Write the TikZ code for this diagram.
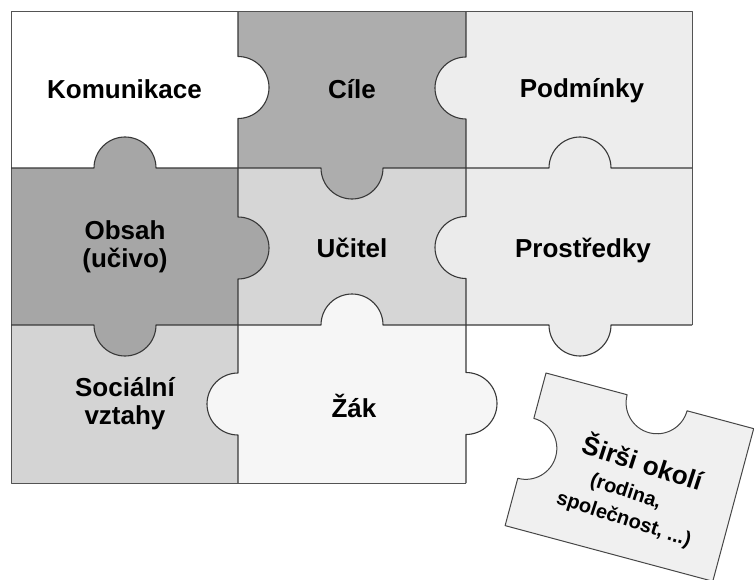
\documentclass[tikz,border=0pt]{standalone}
\usepackage{fontspec}
\setmainfont{Liberation Sans}
\definecolor{komC}{gray}{1.0}
\definecolor{cileC}{gray}{0.68}
\definecolor{podmC}{gray}{0.93}
\definecolor{obsahC}{gray}{0.65}
\definecolor{ucitelC}{gray}{0.84}
\definecolor{prostC}{gray}{0.92}
\definecolor{socC}{gray}{0.83}
\definecolor{zakC}{gray}{0.965}
\definecolor{sirsiC}{gray}{0.94}
\definecolor{edgeC}{gray}{0.22}
\tikzset{
  edge/.style={draw=edgeC, line width=1.1pt, line join=round},
  outer/.style={draw=gray!65!black, line width=1pt, line join=round},
  lbl/.style={font=\bfseries\fontsize{26}{28}\selectfont, text=black, inner sep=0pt, align=center},
  small/.style={font=\bfseries\fontsize{20}{22}\selectfont, text=black, inner sep=0pt},
}
\begin{document}
\begin{tikzpicture}[x=1pt, y=-1pt]
\useasboundingbox (0,0) rectangle (754,580);
% cell fills
\fill[komC]    (11,12)   rectangle (238,168);
\fill[cileC]   (238,12)  rectangle (466,168);
\fill[podmC]   (466,12)  rectangle (692,168);
\fill[obsahC]  (11,168)  rectangle (238,325);
\fill[ucitelC] (238,168) rectangle (466,325);
\fill[prostC]  (466,168) rectangle (692,325);
\fill[socC]    (11,325)  rectangle (238,483);
\fill[zakC]    (238,325) rectangle (466,483);
% tabs
\fill[komC]    (238,87.5)  circle[radius=31pt];
\fill[obsahC]  (238,248)   circle[radius=31pt];
\fill[zakC]    (238,404)   circle[radius=31pt];
\fill[podmC]   (466,88)    circle[radius=31pt];
\fill[prostC]  (466,247.5) circle[radius=31pt];
\fill[zakC]    (466,403.5) circle[radius=31pt];
\fill[obsahC]  (125,168)   circle[radius=31pt];
\fill[cileC]   (352,168)   circle[radius=31pt];
\fill[prostC]  (580,168)   circle[radius=31pt];
\fill[obsahC]  (125,325)   circle[radius=31pt];
\fill[zakC]    (352,325)   circle[radius=31pt];
\fill[prostC]  (580,325)   circle[radius=31pt];
% outer border
\path[outer] (466,483) -- (11,483) -- (11,12) -- (692,12) -- (692,325);
% inner edges
\path[edge] (238,12) -- (238,56.5) arc[start angle=90,end angle=-90,radius=31pt]
  -- (238,217) arc[start angle=90,end angle=-90,radius=31pt]
  -- (238,373) arc[start angle=90,end angle=270,radius=31pt] -- (238,483);
\path[edge] (466,12) -- (466,57) arc[start angle=90,end angle=270,radius=31pt]
  -- (466,216.5) arc[start angle=90,end angle=270,radius=31pt]
  -- (466,372.5) arc[start angle=90,end angle=-90,radius=31pt] -- (466,483);
\path[edge] (11,168) -- (94,168) arc[start angle=180,end angle=0,radius=31pt]
  -- (321,168) arc[start angle=180,end angle=360,radius=31pt]
  -- (549,168) arc[start angle=180,end angle=0,radius=31pt] -- (692,168);
\path[edge] (11,325) -- (94,325) arc[start angle=180,end angle=360,radius=31pt]
  -- (321,325) arc[start angle=180,end angle=0,radius=31pt]
  -- (549,325) arc[start angle=180,end angle=360,radius=31pt] -- (692,325);
% loose piece
\begin{scope}[shift={(546,373)}, rotate=-15]
\path[fill=sirsiC, draw=gray!55!black, line width=1pt, line join=round]
  (0,0) -- (84,0) arc[start angle=180,end angle=360,radius=31pt]
  -- (215,0) -- (215,158) -- (0,158) -- (0,109) arc[start angle=-90,end angle=90,radius=31pt]
  -- cycle;
\end{scope}
% labels
\node[lbl, anchor=base] (kom) at (124.5,99) {Komunikace};
\node[lbl, anchor=base] (cile) at (352,99) {Cíle};
\node[lbl, anchor=base] (podm) at (582,98) {Podmínky};
\node[lbl] (obsah) at (125,247) {Obsah\\(učivo)};
\node[lbl, anchor=base] (ucitel) at (352,257) {Učitel};
\node[lbl, anchor=base] (prost) at (583,257) {Prostředky};
\node[lbl] (soc) at (125,404) {Sociální\\vztahy};
\node[lbl, anchor=base] (zak) at (354,417) {Žák};
\node[lbl, rotate=-18, anchor=base] (sirsi) at (640,472) {Širši okolí};
\node[small, rotate=-18, anchor=base] (rodina) at (624,497) {(rodina,};
\node[small, rotate=-18, anchor=base] (spol) at (622,525) {společnost, ...)};
\end{tikzpicture}
\end{document}
